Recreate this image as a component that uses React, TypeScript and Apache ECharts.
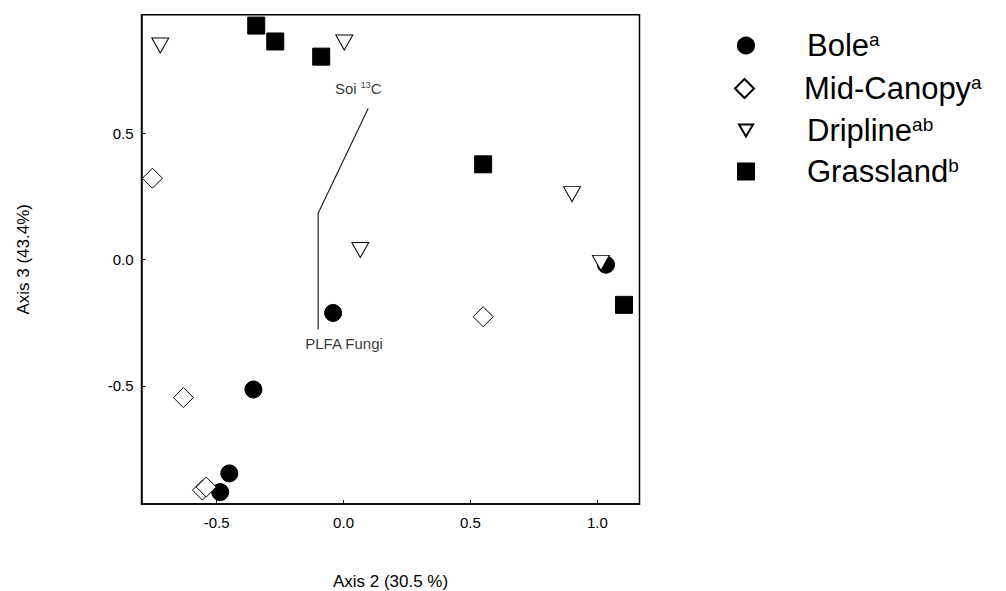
import React, { useEffect, useRef } from "react";
import * as echarts from "echarts";

// Ordination scores (Axis 2, Axis 3) per sampling position
const bolePoints: [number, number][] = [
  [-0.041, -0.211],
  [-0.355, -0.514],
  [-0.45, -0.846],
  [-0.486, -0.92],
  [1.034, -0.02],
];
const midCanopyPoints: [number, number][] = [
  [-0.753, 0.322],
  [-0.631, -0.546],
  [0.55, -0.226],
  [-0.556, -0.912],
  [-0.541, -0.9],
];
const driplinePoints: [number, number][] = [
  [-0.722, 0.847],
  [0.003, 0.859],
  [0.066, 0.038],
  [0.9, 0.259],
  [1.014, -0.013],
];
const grasslandPoints: [number, number][] = [
  [-0.344, 0.926],
  [-0.269, 0.863],
  [-0.088, 0.803],
  [0.55, 0.377],
  [1.105, -0.179],
];

// Joint-plot vectors: Soil 13C end, shared origin, PLFA Fungi end
const vectorPath: [number, number][] = [
  [0.097, 0.598],
  [-0.1, 0.183],
  [-0.1, -0.277],
];
const vectorLabels = [
  { name: "soil", value: [0.058, 0.677], text: "Soi {sup|13}C" },
  { name: "fungi", value: [0.002, -0.333], text: "PLFA Fungi" },
];

const xTicks = [-0.5, 0.0, 0.5, 1.0];
const yTicks = [-0.5, 0.0, 0.5];
const xRange = [-0.796, 1.166];
const yRange = [-0.967, 0.969];

const groups = [
  { name: "Bole", sup: "a" },
  { name: "Mid-Canopy", sup: "a" },
  { name: "Dripline", sup: "ab" },
  { name: "Grassland", sup: "b" },
];

const FONT = "Arial, 'Liberation Sans', sans-serif";

export default function App() {
  const ref = useRef<HTMLDivElement>(null);

  useEffect(() => {
    if (!ref.current) return;
    const chart = echarts.init(ref.current, undefined, { renderer: "svg" });

    // Name is padded evenly so it stays centred on the icon while the
    // superscript is pinned to the top of the line box
    const legendRich = {
      n: { fontSize: 31, lineHeight: 31, padding: [9, 0, 9, 0], fontFamily: FONT, color: "#000" },
      s: { fontSize: 19, lineHeight: 8, fontFamily: FONT, color: "#000", verticalAlign: "top" as const },
    };

    const legendConf = [
      { name: "Bole", left: 737, top: 21, w: 16, h: 16, pad: 48, icon: undefined as string | undefined },
      { name: "Mid-Canopy", left: 734, top: 64, w: 19, h: 19, pad: 45, icon: undefined },
      { name: "Dripline", left: 738, top: 106, w: 14, h: 12, pad: 49, icon: "path://M0,0L14,0L7,12Z" },
      { name: "Grassland", left: 737, top: 147, w: 16, h: 16, pad: 48, icon: undefined },
    ];

    const legends = legendConf.map((c) => {
      const g = groups.find((x) => x.name === c.name)!;
      return {
        data: [c.icon ? { name: c.name, icon: c.icon } : c.name],
        left: c.left,
        top: c.top,
        orient: "vertical" as const,
        padding: 0,
        itemWidth: c.w,
        itemHeight: c.h,
        selectedMode: false,
        formatter: () => `{n|${g.name}}{s|${g.sup}}`,
        textStyle: {
          padding: [0, 0, 0, c.pad],
          rich: legendRich,
        },
      };
    });

    chart.setOption({
      animation: false,
      backgroundColor: "#fff",
      grid: {
        left: 141.5,
        top: 14.7,
        width: 498,
        height: 489.3,
        outerBoundsMode: "none",
        containLabel: false,
        show: true,
        borderColor: "#000",
        borderWidth: 1.5,
        backgroundColor: "transparent",
      },
      legend: legends,
      xAxis: {
        type: "value",
        min: xRange[0],
        max: xRange[1],
        name: "Axis 2 (30.5 %)",
        nameLocation: "middle",
        nameGap: 69,
        nameTextStyle: { fontSize: 17, fontFamily: FONT, color: "#000" },
        splitLine: { show: false },
        axisLine: { show: true, onZero: false, lineStyle: { color: "#000", width: 1.5 } },
        axisTick: {
          show: true,
          inside: true,
          length: 4,
          customValues: xTicks,
          lineStyle: { color: "#000", width: 1 },
        },
        axisLabel: {
          customValues: xTicks,
          margin: 11,
          fontSize: 15,
          fontFamily: FONT,
          color: "#000",
          formatter: (v: number) => v.toFixed(1),
        },
      },
      yAxis: {
        type: "value",
        min: yRange[0],
        max: yRange[1],
        name: "Axis 3 (43.4%)",
        nameLocation: "middle",
        nameGap: 110,
        nameRotate: 90,
        nameTextStyle: { fontSize: 17, fontFamily: FONT, color: "#000" },
        splitLine: { show: false },
        axisLine: { show: true, onZero: false, lineStyle: { color: "#000", width: 1.5 } },
        axisTick: {
          show: true,
          inside: true,
          length: 4,
          customValues: yTicks,
          lineStyle: { color: "#000", width: 1 },
        },
        axisLabel: {
          customValues: yTicks,
          margin: 8,
          fontSize: 15,
          fontFamily: FONT,
          color: "#000",
          formatter: (v: number) => v.toFixed(1),
        },
      },
      series: [
        {
          name: "vectors",
          type: "line",
          data: vectorPath,
          symbol: "none",
          lineStyle: { color: "#222", width: 1.2 },
          silent: true,
          z: 1,
        },
        {
          name: "vectorLabels",
          type: "scatter",
          symbolSize: 0,
          data: vectorLabels.map((d) => ({ name: d.name, value: d.value })),
          label: {
            show: true,
            position: "inside",
            formatter: (p: any) => vectorLabels[p.dataIndex].text,
            fontSize: 15,
            fontFamily: FONT,
            color: "#000",
            rich: {
              sup: { fontSize: 9, lineHeight: 6, fontFamily: FONT, color: "#000", verticalAlign: "top" },
            },
          },
          silent: true,
          z: 2,
        },
        {
          name: "Bole",
          type: "scatter",
          data: bolePoints,
          symbol: "circle",
          symbolSize: 17,
          itemStyle: { color: "#000", borderColor: "#000", borderWidth: 1, opacity: 1 },
          z: 3,
        },
        {
          name: "Mid-Canopy",
          type: "scatter",
          data: midCanopyPoints,
          symbol: "diamond",
          symbolSize: 20,
          itemStyle: { color: "#fff", borderColor: "#000", borderWidth: 1, opacity: 1 },
          z: 3,
        },
        {
          name: "Dripline",
          type: "scatter",
          data: driplinePoints,
          symbol: "triangle",
          symbolRotate: 180,
          symbolSize: [17, 15],
          itemStyle: { color: "#fff", borderColor: "#000", borderWidth: 1, opacity: 1 },
          z: 3,
        },
        {
          name: "Grassland",
          type: "scatter",
          data: grasslandPoints,
          symbol: "rect",
          symbolSize: 17,
          itemStyle: { color: "#000", borderColor: "#000", borderWidth: 1, opacity: 1 },
          z: 3,
        },
      ],
    });

    return () => chart.dispose();
  }, []);

  return (
    <div
      ref={ref}
      style={{ position: "fixed", left: 0, top: 0, width: 1006, height: 591, background: "#fff" }}
    />
  );
}
